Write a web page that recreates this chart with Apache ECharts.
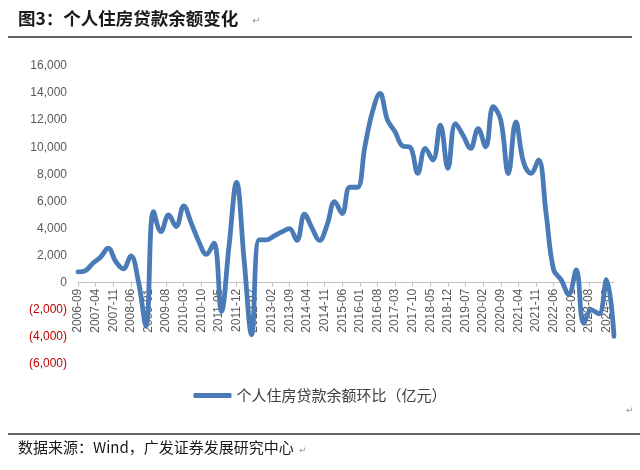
<!DOCTYPE html>
<html>
<head>
<meta charset="utf-8">
<script src="https://cdn.jsdelivr.net/npm/echarts@6/dist/echarts.min.js"></script>
<style>
html,body{margin:0;padding:0;background:#fff;}
#chart{width:640px;height:470px;}
</style>
</head>
<body>
<div id="chart"></div>
<script>
// Quarter-end dates (2006-09 .. 2024-06)
var quarterStart = '2006-09';
var quarterEnd = '2024-06';
// 个人住房贷款余额环比（亿元）, one value per quarter
var values = [
  800, 900, 1450, 1900, 2550, 1570, 1030, 1980, 100, -3200,
  5250, 3780, 5000, 4150, 5670, 4400, 3040, 2100, 2920, -2110,
  2670, 7400, 1700, -3830, 3170, 3170, 3460, 3750, 4000, 3120,
  5060, 4030, 3120, 4270, 5990, 5100, 7050, 7050, 10040, 12620,
  13970, 12000, 11150, 10090, 10000, 8080, 9920, 9060, 11640, 8450,
  11750, 10890, 9920, 11370, 10040, 13000, 12000, 8060, 11880, 8930,
  8080, 9060, 5130, 960, 220, -880, 950, -3000, -2000, -2300,
  220, -3950
];
var seriesName = '个人住房贷款余额环比（亿元）';
var titleText = '图3：个人住房贷款余额变化';
var sourceText = '数据来源：Wind，广发证券发展研究中心';
var yTicks = [-6000, -4000, -2000, 0, 2000, 4000, 6000, 8000, 10000, 12000, 14000, 16000];

// monthly category axis
var months = [];
(function () {
  var y = +quarterStart.slice(0, 4), m = +quarterStart.slice(5, 7);
  var ey = +quarterEnd.slice(0, 4), em = +quarterEnd.slice(5, 7);
  while (y < ey || (y === ey && m <= em)) {
    months.push(y + '-' + (m < 10 ? '0' + m : m));
    m++; if (m > 12) { m = 1; y++; }
  }
})();
var monthly = months.map(function () { return null; });
values.forEach(function (v, i) { monthly[i * 3] = v; });

function fmt(v) {
  var s = Math.abs(v).toString().replace(/\B(?=(\d{3})+(?!\d))/g, ',');
  return v < 0 ? '{neg|(' + s + ')}' : '{pos|' + s + '}';
}

var gridTop = 66, gridBottom = 106, H = 470;
var yMin = yTicks[0], yMax = yTicks[yTicks.length - 1];
var plotH = H - gridTop - gridBottom;
// shift the x axis (line, ticks, labels) up so it sits at value 0
var zeroOffset = -plotH * (0 - yMin) / (yMax - yMin);

var chart = echarts.init(document.getElementById('chart'), null, {renderer: 'canvas'});
chart.setOption({
  animation: false,
  backgroundColor: '#fff',
  grid: {left: 78, right: 26, top: gridTop, bottom: gridBottom},
  xAxis: {
    type: 'category',
    data: months,
    boundaryGap: false,
    position: 'bottom',
    offset: zeroOffset,
    z: 0,
    axisLine: {onZero: false, lineStyle: {color: '#c0c0c0', width: 1}},
    axisTick: {show: true, interval: 6, length: 4, lineStyle: {color: '#c0c0c0'}},
    axisLabel: {interval: 6, rotate: 90, color: '#595959', fontSize: 12,
      fontFamily: 'Liberation Sans', margin: 6},
    splitLine: {show: false}
  },
  yAxis: {
    type: 'value',
    min: yMin, max: yMax, interval: 2000,
    axisLine: {show: false}, axisTick: {show: false}, splitLine: {show: false},
    axisLabel: {
      margin: 11,
      formatter: fmt,
      rich: {
        pos: {color: '#595959', fontSize: 12, fontFamily: 'Liberation Sans'},
        neg: {color: '#c00000', fontSize: 12, fontFamily: 'Liberation Sans'}
      }
    }
  },
  legend: {
    data: [seriesName],
    bottom: 62, left: 'center',
    icon: 'roundRect', itemWidth: 38, itemHeight: 5, itemGap: 6,
    textStyle: {color: '#404040', fontSize: 15, fontFamily: 'Noto Sans CJK SC'}
  },
  series: [{
    name: seriesName,
    type: 'line',
    data: monthly,
    connectNulls: true,
    smooth: 0.4,
    showSymbol: false,
    symbol: 'none',
    z: 5,
    lineStyle: {color: '#4a7bb7', width: 4.8, cap: 'round', join: 'round'},
    itemStyle: {color: '#4a7bb7'}
  }],
  graphic: [
    {type: 'text', left: 18, top: 10, style: {text: titleText, fontSize: 17.5, fontWeight: 'bold',
      fill: '#1a1a1a', fontFamily: 'Noto Sans CJK SC'}},
    {type: 'text', left: 252, top: 16, style: {text: '↵', fontSize: 10, fill: '#999', fontFamily: 'DejaVu Sans'}},
    {type: 'line', shape: {x1: 8, y1: 37, x2: 632, y2: 37}, style: {stroke: '#333', lineWidth: 1.5}},
    {type: 'text', left: 626, top: 406, style: {text: '↵', fontSize: 9, fill: '#999', fontFamily: 'DejaVu Sans'}},
    {type: 'line', shape: {x1: 8, y1: 434, x2: 640, y2: 434}, style: {stroke: '#333', lineWidth: 1.5}},
    {type: 'text', left: 18, top: 440, style: {text: sourceText, fontSize: 15,
      fill: '#1a1a1a', fontFamily: 'Noto Sans CJK SC'}},
    {type: 'text', left: 299, top: 446, style: {text: '↵', fontSize: 9, fill: '#999', fontFamily: 'DejaVu Sans'}}
  ]
});
</script>
</body>
</html>
